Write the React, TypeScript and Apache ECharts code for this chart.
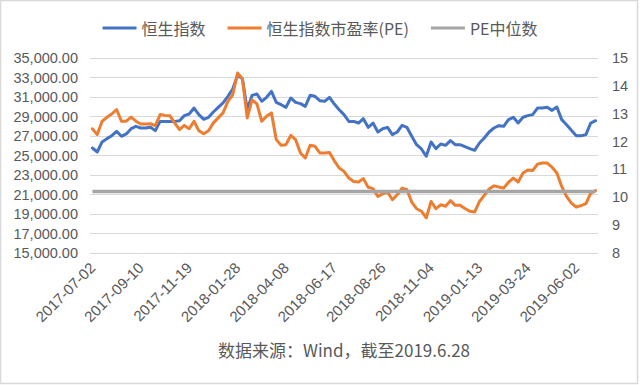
import React, { useEffect, useRef } from "react";
import * as echarts from "echarts";

const START_DATE = "2017-07-02";
const WEEKS = 105;

const HSI_INDEX = [
  25770, 25360, 26390, 26730, 27030, 27480, 26970, 27210, 27750, 27990,
  27820, 27820, 27890, 27550, 28500, 28500, 28500, 28500, 28570, 29090,
  29260, 29870, 29190, 28710, 28920, 29460, 29940, 30390, 31070, 31820,
  33220, 32880, 29700, 31170, 31310, 30560, 30970, 31580, 30450, 30210,
  29940, 30900, 30450, 30320, 30040, 31170, 31070, 30620, 30560, 30970,
  30280, 29700, 29190, 28500, 28500, 28330, 28780, 27890, 28330, 27410,
  27750, 27890, 27140, 27410, 28090, 27890, 26970, 26110, 25670, 24920,
  26390, 25700, 26180, 26040, 26520, 26110, 26110, 25910, 25700, 25530,
  26280, 26800, 27410, 27820, 28060, 27990, 28680, 28920, 28330, 28920,
  29090, 29190, 29870, 29870, 29940, 29630, 29970, 28680, 28160, 27580,
  27030, 27030, 27140, 28330, 28570,
];

const HSI_PE = [
  12.46, 12.25, 12.73, 12.87, 12.99, 13.15, 12.73, 12.73, 12.88, 12.73,
  12.63, 12.63, 12.64, 12.57, 12.97, 12.94, 12.93, 12.67, 12.43, 12.58,
  12.46, 12.73, 12.39, 12.28, 12.39, 12.67, 12.85, 13.03, 13.44, 13.68,
  14.46, 14.26, 12.85, 13.5, 13.35, 12.73, 12.91, 13.03, 12.07, 11.87,
  11.89, 12.22, 12.07, 11.59, 11.41, 11.87, 11.83, 11.59, 11.59, 11.61,
  11.31, 11.05, 10.93, 10.69, 10.57, 10.55, 10.67, 10.36, 10.31, 10.03,
  10.12, 10.19, 9.91, 10.09, 10.33, 10.27, 9.83, 9.59, 9.5, 9.26,
  9.85, 9.59, 9.73, 9.68, 9.88, 9.71, 9.71, 9.6, 9.5, 9.47,
  9.85, 10.07, 10.3, 10.41, 10.37, 10.33, 10.54, 10.69, 10.55, 10.87,
  10.98, 10.96, 11.19, 11.23, 11.23, 11.08, 10.87, 10.39, 10.03, 9.79,
  9.65, 9.7, 9.77, 10.15, 10.24,
];

const PE_MEDIAN = 10.21;

const LEFT_AXIS = { min: 15000, max: 35000, interval: 2000 };
const RIGHT_AXIS = { min: 8, max: 15, interval: 1 };

const SERIES_NAMES = ["恒生指数", "恒生指数市盈率(PE)", "PE中位数"];
const FOOTNOTE = "数据来源：Wind，截至2019.6.28";

function buildDates(start: string, n: number): string[] {
  const out: string[] = [];
  const d0 = new Date(start + "T00:00:00Z");
  for (let i = 0; i < n; i++) {
    const d = new Date(d0.getTime() + i * 7 * 86400000);
    const y = d.getUTCFullYear();
    const m = String(d.getUTCMonth() + 1).padStart(2, "0");
    const day = String(d.getUTCDate()).padStart(2, "0");
    out.push(`${y}-${m}-${day}`);
  }
  return out;
}

const DATES = buildDates(START_DATE, WEEKS);

export default function App() {
  const ref = useRef<HTMLDivElement>(null);

  useEffect(() => {
    if (!ref.current) return;
    const chart = echarts.init(ref.current, null, { renderer: "svg" });
    const font = "'Liberation Sans', 'Noto Sans CJK SC', sans-serif";
    const cjkFont = "'Noto Sans CJK SC', 'Liberation Sans', sans-serif";
    const labelColor = "#595959";

    chart.setOption({
      animation: false,
      backgroundColor: "#ffffff",
      textStyle: { fontFamily: font },
      graphic: [
        {
          type: "rect",
          shape: { x: 0.5, y: 0.5, width: 637, height: 383 },
          style: { fill: "none", stroke: "#D9D9D9", lineWidth: 1.5 },
          silent: true,
        },
      ],
      legend: {
        top: 15,
        left: "center",
        itemWidth: 34,
        itemHeight: 3,
        itemGap: 22,
        icon: "rect",
        textStyle: { color: labelColor, fontSize: 16, fontFamily: cjkFont },
        data: SERIES_NAMES,
      },
      grid: { left: 90, right: 42, top: 58, bottom: 132, containLabel: false },
      xAxis: {
        type: "category",
        data: DATES,
        boundaryGap: true,
        axisLine: { show: false },
        axisTick: { show: false },
        axisLabel: {
          interval: 9,
          rotate: 45,
          margin: 12,
          color: labelColor,
          fontSize: 15,
          fontFamily: font,
        },
        name: FOOTNOTE,
        nameLocation: "middle",
        nameGap: 88,
        nameTextStyle: { color: labelColor, fontSize: 17, fontFamily: cjkFont },
      },
      yAxis: [
        {
          type: "value",
          min: LEFT_AXIS.min,
          max: LEFT_AXIS.max,
          interval: LEFT_AXIS.interval,
          axisLine: { show: false },
          axisTick: { show: false },
          splitLine: { show: true, lineStyle: { color: "#D9D9D9", width: 1 } },
          axisLabel: {
            color: labelColor,
            fontSize: 14.5,
            margin: 12,
            fontFamily: font,
            formatter: (v: number) =>
              v.toLocaleString("en-US", { minimumFractionDigits: 2, maximumFractionDigits: 2 }),
          },
        },
        {
          type: "value",
          min: RIGHT_AXIS.min,
          max: RIGHT_AXIS.max,
          interval: RIGHT_AXIS.interval,
          position: "right",
          axisLine: { show: false },
          axisTick: { show: false },
          splitLine: { show: false },
          axisLabel: { color: labelColor, fontSize: 14.5, margin: 14, fontFamily: font },
        },
      ],
      series: [
        {
          name: SERIES_NAMES[0],
          type: "line",
          yAxisIndex: 0,
          data: HSI_INDEX,
          showSymbol: false,
          symbol: "none",
          lineStyle: { color: "#4472C4", width: 3, join: "round", cap: "round" },
          itemStyle: { color: "#4472C4" },
        },
        {
          name: SERIES_NAMES[1],
          type: "line",
          yAxisIndex: 1,
          data: HSI_PE,
          showSymbol: false,
          symbol: "none",
          lineStyle: { color: "#ED7D31", width: 3, join: "round", cap: "round" },
          itemStyle: { color: "#ED7D31" },
        },
        {
          name: SERIES_NAMES[2],
          type: "line",
          yAxisIndex: 1,
          data: DATES.map(() => PE_MEDIAN),
          showSymbol: false,
          symbol: "none",
          lineStyle: { color: "#A5A5A5", width: 3.5 },
          itemStyle: { color: "#A5A5A5" },
        },
      ],
    });

    return () => chart.dispose();
  }, []);

  return (
    <div
      ref={ref}
      style={{ position: "fixed", left: 0, top: 0, width: 640, height: 385, background: "#fff" }}
    />
  );
}
